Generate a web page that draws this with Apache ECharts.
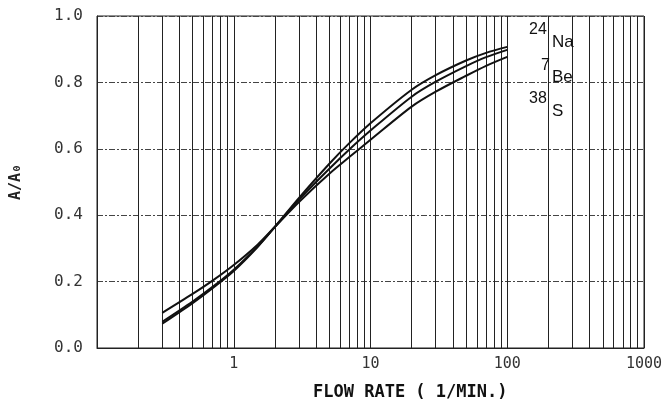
<!DOCTYPE html>
<html>
<head>
<meta charset="utf-8">
<script src="https://cdn.jsdelivr.net/npm/echarts@6/dist/echarts.min.js"></script>
<style>html,body{margin:0;padding:0;background:#fff;}#c{width:663px;height:406px;}</style>
</head>
<body>
<div id="c"></div>
<script>
// Data
const flowRates = [0.3, 0.5, 0.7, 1, 1.5, 2, 3, 5, 7, 10, 20, 30, 50, 70, 100];
const naValues  = [0.073, 0.135, 0.180, 0.232, 0.305, 0.365, 0.452, 0.555, 0.617, 0.677, 0.778, 0.822, 0.866, 0.889, 0.907];
const beValues  = [0.079, 0.140, 0.184, 0.236, 0.307, 0.365, 0.447, 0.540, 0.598, 0.655, 0.757, 0.802, 0.849, 0.876, 0.898];
const sValues   = [0.106, 0.163, 0.203, 0.250, 0.312, 0.365, 0.440, 0.525, 0.575, 0.627, 0.727, 0.772, 0.820, 0.850, 0.877];
const xMinorGridValues = [0.2,0.3,0.4,0.5,0.6,0.7,0.8,0.9, 2,3,4,5,6,7,8,9, 20,30,40,50,60,70,80,90, 200,300,400,500,600,700,800,900];
const xTickLabels = ['1', '10', '100', '1000'];
const yTicks = [0, 0.2, 0.4, 0.6, 0.8, 1.0];

const pair = (xs, ys) => xs.map((x, i) => [x, ys[i]]);
const chart = echarts.init(document.getElementById('c'));
const mono = 'DejaVu Sans Mono';
const curveStyle = { color: '#111', width: 2 };

chart.setOption({
  animation: false,
  backgroundColor: '#fff',
  grid: { left: 97, right: 19, top: 16, bottom: 58, containLabel: false, outerBoundsMode: 'none',
          show: true, borderColor: '#222', borderWidth: 1 },
  xAxis: {
    type: 'log', logBase: 10, min: 0.1, max: 1000,
    axisLine: { show: true, lineStyle: { color: '#222', width: 1 } },
    axisTick: { show: false },
    splitLine: { show: true, lineStyle: { color: '#222', width: 1, type: 'solid' } },
    axisLabel: {
      margin: 9, fontFamily: mono, fontSize: 15, color: '#333',
      formatter: v => { const s = String(Math.round(v)); return (v >= 1 && xTickLabels.includes(s)) ? s : ''; }
    }
  },
  yAxis: {
    type: 'value', min: 0, max: 1, interval: 0.2,
    name: 'A/A₀', nameLocation: 'middle', nameRotate: 90, nameGap: 73,
    nameTextStyle: { fontFamily: mono, fontWeight: 'bold', fontSize: 15, color: '#222' },
    axisLine: { show: true, lineStyle: { color: '#222', width: 1 } },
    axisTick: { show: false },
    splitLine: { show: true, lineStyle: { color: '#444', width: 1, type: [6, 2, 2, 2] } },
    axisLabel: {
      margin: 14, fontFamily: mono, fontSize: 16, color: '#333',
      formatter: v => yTicks.some(t => Math.abs(t - v) < 1e-9) ? v.toFixed(1) : ''
    }
  },
  series: [
    {
      name: '24Na', type: 'line', smooth: 0.3, symbol: 'none',
      data: pair(flowRates, naValues), lineStyle: curveStyle, z: 5,
      markLine: {
        silent: true, symbol: ['none', 'none'], label: { show: false },
        lineStyle: { color: '#222', width: 1, type: 'solid' },
        data: xMinorGridValues.map(v => ({ xAxis: v }))
      }
    },
    { name: '7Be', type: 'line', smooth: 0.3, symbol: 'none', data: pair(flowRates, beValues), lineStyle: curveStyle, z: 5 },
    { name: '38S', type: 'line', smooth: 0.3, symbol: 'none', data: pair(flowRates, sValues), lineStyle: curveStyle, z: 5 }
  ],
  graphic: [
    { type: 'text', left: 529, top: 22, z: 10, style: { text: '24', font: '16px "Liberation Sans"', fill: '#111' } },
    { type: 'text', left: 552, top: 34, z: 10, style: { text: 'Na', font: '17px "Liberation Sans"', fill: '#111' } },
    { type: 'text', left: 541, top: 58, z: 10, style: { text: '7', font: '16px "Liberation Sans"', fill: '#111' } },
    { type: 'text', left: 552, top: 69, z: 10, style: { text: 'Be', font: '17px "Liberation Sans"', fill: '#111' } },
    { type: 'text', left: 529, top: 91, z: 10, style: { text: '38', font: '16px "Liberation Sans"', fill: '#111' } },
    { type: 'text', left: 552, top: 103, z: 10, style: { text: 'S', font: '17px "Liberation Sans"', fill: '#111' } },
    { type: 'text', left: 313, top: 384, z: 10, style: { text: 'FLOW RATE ( 1/MIN.)', font: 'bold 17px "DejaVu Sans Mono"', fill: '#111' } }
  ]
});
</script>
</body>
</html>
